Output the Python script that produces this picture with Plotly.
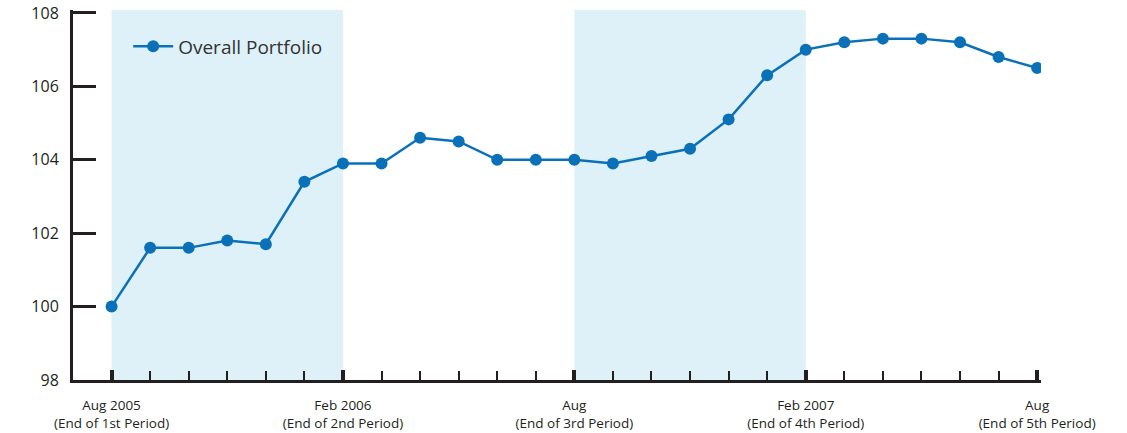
import plotly.graph_objects as go

months = list(range(25))
values = [100.0, 101.6, 101.6, 101.8, 101.7, 103.4, 103.9, 103.9, 104.6, 104.5,
          104.0, 104.0, 104.0, 103.9, 104.1, 104.3, 105.1, 106.3, 107.0, 107.2,
          107.3, 107.3, 107.2, 106.8, 106.5]
tick_pos = [0, 6, 12, 18, 24]
tick_text = ["Aug 2005<br>(End of 1st Period)", "Feb 2006<br>(End of 2nd Period)",
             "Aug<br>(End of 3rd Period)", "Feb 2007<br>(End of 4th Period)",
             "Aug<br>(End of 5th Period)"]
shaded = [(0, 6), (12, 18)]
series_name = "Overall Portfolio"

FONT = "Open Sans, sans-serif"
AX = "#231f20"
BLUE = "#0a71b8"

fig = go.Figure()
fig.add_trace(go.Scatter(x=months, y=values, mode="lines+markers", name=series_name,
                         line=dict(color=BLUE, width=2.5),
                         marker=dict(color=BLUE, size=12)))

for a, b in shaded:
    fig.add_shape(type="rect", xref="x", yref="paper", x0=a, x1=b, y0=0, y1=1,
                  fillcolor="#def0f8", line_width=0, layer="below")

fig.update_layout(
    width=1127, height=433,
    margin=dict(l=73, r=86, t=10, b=53),
    paper_bgcolor="white", plot_bgcolor="white",
    font=dict(family=FONT, color="#231f20", size=14),
    showlegend=True,
    legend=dict(x=0.057, y=0.953, xanchor="left", yanchor="top",
                bgcolor="rgba(0,0,0,0)", font=dict(size=19, color="#333"),
                itemwidth=40),
    xaxis=dict(range=[-1, 24.1], showgrid=False, zeroline=False, automargin=False,
               showline=True, linecolor=AX, linewidth=3,
               tickmode="array", tickvals=tick_pos, ticktext=tick_text,
               ticks="inside", ticklen=10, tickwidth=4, tickcolor=AX,
               tickfont=dict(size=13.5), ticklabelstandoff=11,
               minor=dict(dtick=1, tick0=0, ticks="inside", ticklen=9, tickwidth=2,
                          tickcolor=AX, showgrid=False)),
    yaxis=dict(range=[98, 108.08], showgrid=False, zeroline=False, automargin=False,
               showline=True, linecolor=AX, linewidth=3,
               tickmode="array", tickvals=[98, 100, 102, 104, 106, 108],
               ticks="inside", ticklen=23, tickwidth=3, tickcolor=AX,
               tickfont=dict(size=16), ticklabelstandoff=8),
)

fig.write_html("out.html")
